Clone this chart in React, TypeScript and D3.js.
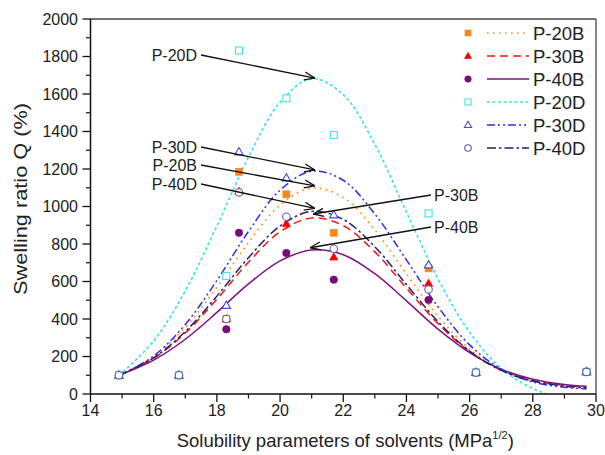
import React from "react";
import * as d3 from "d3";

// Measured points: solubility parameter of each solvent (MPa^1/2) and swelling ratio Q (%)
const solubility = [14.9, 16.8, 18.3, 18.7, 20.2, 21.7, 24.7, 26.2, 29.7];
const p20B = [100, 100, 400, 1185, 1065, 860, 670, 115, 118];
const p30B = [100, 100, 400, 1080, 908, 730, 590, 115, 118];
const p40B = [100, 100, 345, 860, 752, 610, 502, 115, 118];
const p20D = [100, 100, 630, 1832, 1577, 1382, 963, 115, 118];
const p30D = [100, 100, 472, 1291, 1152, 955, 688, 115, 118];
const p40D = [100, 100, 400, 1075, 945, 775, 558, 115, 118];

// Fitted curves sampled along the solubility axis
const fitX = [14.9, 16, 17, 18, 19, 20, 21, 22, 23, 24, 25, 26, 27, 28, 29, 29.7];
const fit20B = [100, 200, 355, 570, 808, 1007, 1098, 1048, 875, 641, 414, 240, 128, 68, 41, 32];
const fit30B = [100, 191, 325, 506, 703, 865, 939, 898, 758, 565, 375, 226, 127, 72, 46, 38];
const fit40B = [100, 181, 292, 435, 587, 710, 768, 743, 642, 497, 346, 221, 132, 79, 51, 41];
const fit20D = [98, 283, 550, 896, 1263, 1556, 1682, 1597, 1331, 970, 614, 329, 137, 29, -25, -43];
const fit30D = [96, 203, 371, 605, 867, 1087, 1188, 1140, 960, 715, 465, 262, 132, 64, 36, 27];
const fit40D = [100, 193, 333, 522, 727, 896, 974, 931, 785, 584, 386, 229, 126, 69, 42, 33];

const seriesNames = ["P-20B", "P-30B", "P-40B", "P-20D", "P-30D", "P-40D"];

// Axis ticks
const xTickValues = [14, 16, 18, 20, 22, 24, 26, 28, 30];
const xMinorValues = [15, 17, 19, 21, 23, 25, 27, 29];
const yTickValues = [0, 200, 400, 600, 800, 1000, 1200, 1400, 1600, 1800, 2000];
const yMinorValues = [100, 300, 500, 700, 900, 1100, 1300, 1500, 1700, 1900];

// Peak call-outs: label and the peak each arrow points to
const calloutLabels = ["P-20D", "P-30D", "P-20B", "P-40D", "P-30B", "P-40B"];
const calloutPeakX = [21.1, 21.1, 21.1, 21.1, 21.05, 20.95];
const calloutPeakY = [1685, 1195, 1110, 990, 960, 780];

type Shape = "square" | "triangle" | "circle";
interface Style {
  color: string;
  marker: Shape;
  markerColor: string;
  filled: boolean;
  dash: string;
  width: number;
}

const styles: Style[] = [
  { color: "#FF8A1E", marker: "square", markerColor: "#F7861E", filled: true, dash: "1.6,4.4", width: 1.7 },
  { color: "#FF1010", marker: "triangle", markerColor: "#FF0000", filled: true, dash: "8,5", width: 1.5 },
  { color: "#7E127E", marker: "circle", markerColor: "#7B0A7B", filled: true, dash: "", width: 1.5 },
  { color: "#33E3E8", marker: "square", markerColor: "#3FE0E6", filled: false, dash: "3,2.5", width: 1.6 },
  { color: "#2F2FE8", marker: "triangle", markerColor: "#4B4BDD", filled: false, dash: "8,3,2,3,2,3", width: 1.5 },
  { color: "#22226E", marker: "circle", markerColor: "#5C5CA8", filled: false, dash: "9,3,2.5,3", width: 1.5 },
];

const pointSets = [p20B, p30B, p40B, p20D, p30D, p40D];
const fitSets = [fit20B, fit30B, fit40B, fit20D, fit30D, fit40D];

const W = 605;
const H = 455;
const plot = { left: 90.5, right: 596, top: 19, bottom: 394 };
const FONT = "'Liberation Sans', Arial, Helvetica, sans-serif";

function Marker({ shape, cx, cy, size, color, filled }: { shape: Shape; cx: number; cy: number; size: number; color: string; filled: boolean }) {
  const fill = filled ? color : "#ffffff";
  const sw = filled ? 0.6 : 1.1;
  if (shape === "square") {
    return <rect x={cx - size / 2} y={cy - size / 2} width={size} height={size} fill={fill} stroke={color} strokeWidth={sw} />;
  }
  if (shape === "circle") {
    return <circle cx={cx} cy={cy} r={size / 2} fill={fill} stroke={color} strokeWidth={sw} />;
  }
  const s = size * 1.2;
  const h = s * 0.87;
  const pts = `${cx},${cy - h * 0.6} ${cx - s / 2},${cy + h * 0.4} ${cx + s / 2},${cy + h * 0.4}`;
  return <polygon points={pts} fill={fill} stroke={color} strokeWidth={sw} strokeLinejoin="miter" />;
}

export default function App() {
  const x = d3.scaleLinear().domain([14, 30]).range([plot.left, plot.right]);
  const y = d3.scaleLinear().domain([0, 2000]).range([plot.bottom, plot.top]);

  const line = d3
    .line<number>()
    .x((_, i) => x(fitX[i]))
    .y((d) => y(d))
    .curve(d3.curveCatmullRom.alpha(0.5));

  const legendRows = seriesNames.map((n, i) => ({ name: n, style: styles[i], cy: 33 + i * 23 }));

  // call-out text anchors (left group ends at text end, right group starts at text start)
  const calloutText = [
    { tx: 197, ty: 55, anchor: "end", lx: 201 },
    { tx: 197, ty: 147, anchor: "end", lx: 201 },
    { tx: 197, ty: 165, anchor: "end", lx: 201 },
    { tx: 197, ty: 184, anchor: "end", lx: 201 },
    { tx: 434, ty: 195, anchor: "start", lx: 431 },
    { tx: 434, ty: 227, anchor: "start", lx: 431 },
  ];

  return (
    <svg width={W} height={H} style={{ position: "absolute", left: 0, top: 0, background: "#fff" }} fontFamily={FONT}>
      <defs>
        <clipPath id="plotArea">
          <rect x={plot.left} y={plot.top} width={plot.right - plot.left} height={plot.bottom - plot.top} />
        </clipPath>
        <marker id="arrowHead" viewBox="0 0 12 10" refX="11.5" refY="5" markerWidth="12" markerHeight="10" markerUnits="userSpaceOnUse" orient="auto">
          <path d="M1,1 L11.5,5 L1,9" fill="none" stroke="#111" strokeWidth={1.3} />
        </marker>
      </defs>

      {/* frame */}
      <line x1={plot.left} x2={plot.right} y1={plot.top} y2={plot.top} stroke="#444" strokeWidth={1.3} />
      <line x1={plot.right} x2={plot.right} y1={plot.top} y2={plot.bottom} stroke="#444" strokeWidth={1.3} />

      {/* fitted curves */}
      <g clipPath="url(#plotArea)">
        {fitSets.map((vals, i) => (
          <path
            key={seriesNames[i]}
            d={line(vals) || ""}
            fill="none"
            stroke={styles[i].color}
            strokeWidth={styles[i].width}
            strokeDasharray={styles[i].dash || undefined}
          />
        ))}
      </g>

      {/* measured points */}
      {pointSets.map((vals, i) => (
        <g key={"pts" + i}>
          {vals.map((v, j) => (
            <Marker
              key={j}
              shape={styles[i].marker}
              cx={x(solubility[j])}
              cy={y(v)}
              size={styles[i].marker === "circle" ? 7.5 : 7}
              color={styles[i].markerColor}
              filled={styles[i].filled}
            />
          ))}
        </g>
      ))}

      {/* axes */}
      <line x1={plot.left} x2={plot.left} y1={plot.top} y2={plot.bottom} stroke="#111" strokeWidth={1.5} />
      <line x1={plot.left} x2={plot.right} y1={plot.bottom} y2={plot.bottom} stroke="#111" strokeWidth={1.5} />
      {yTickValues.map((t) => (
        <g key={"yt" + t}>
          <line x1={plot.left - 8} x2={plot.left} y1={y(t)} y2={y(t)} stroke="#111" strokeWidth={1.3} />
          <text x={78} y={y(t)} dy="0.35em" textAnchor="end" fontSize={16} fill="#222">
            {t}
          </text>
        </g>
      ))}
      {yMinorValues.map((t) => (
        <line key={"ym" + t} x1={plot.left - 4.5} x2={plot.left} y1={y(t)} y2={y(t)} stroke="#111" strokeWidth={1.2} />
      ))}
      {xTickValues.map((t) => (
        <g key={"xt" + t}>
          <line x1={x(t)} x2={x(t)} y1={plot.bottom} y2={plot.bottom + 8} stroke="#111" strokeWidth={1.3} />
          <text x={x(t)} y={416} textAnchor="middle" fontSize={16} fill="#222">
            {t}
          </text>
        </g>
      ))}
      {xMinorValues.map((t) => (
        <line key={"xm" + t} x1={x(t)} x2={x(t)} y1={plot.bottom} y2={plot.bottom + 4.5} stroke="#111" strokeWidth={1.2} />
      ))}

      {/* axis titles */}
      <text x={(plot.left + plot.right) / 2 + 2} y={447} textAnchor="middle" fontSize={18.5} fill="#222">
        Solubility parameters of solvents (MPa
        <tspan fontSize={11} dy={-8}>
          1/2
        </tspan>
        <tspan dy={8}>)</tspan>
      </text>
      <text transform={`translate(27,199) rotate(-90)`} textAnchor="middle" fontSize={19} textLength={192} lengthAdjust="spacingAndGlyphs" fill="#222">
        Swelling ratio Q (%)
      </text>

      {/* peak call-outs */}
      {calloutLabels.map((lab, i) => {
        const c = calloutText[i];
        return (
          <g key={"co" + lab}>
            <line
              x1={c.lx}
              y1={c.ty}
              x2={x(calloutPeakX[i])}
              y2={y(calloutPeakY[i])}
              stroke="#111"
              strokeWidth={1.3}
              markerEnd="url(#arrowHead)"
            />
            <text x={c.tx} y={c.ty} dy="0.35em" textAnchor={c.anchor as "start" | "end"} fontSize={16} fill="#222">
              {lab}
            </text>
          </g>
        );
      })}

      {/* legend */}
      {legendRows.map((r) => (
        <g key={"lg" + r.name}>
          <Marker
            shape={r.style.marker}
            cx={468}
            cy={r.cy}
            size={r.style.marker === "circle" ? 6.5 : 6}
            color={r.style.markerColor}
            filled={r.style.filled}
          />
          <line
            x1={487}
            x2={529}
            y1={r.cy}
            y2={r.cy}
            stroke={r.style.color}
            strokeWidth={r.style.width}
            strokeDasharray={r.style.dash || undefined}
          />
          <text x={533} y={r.cy} dy="0.36em" fontSize={18.5} fill="#222">
            {r.name}
          </text>
        </g>
      ))}
    </svg>
  );
}
